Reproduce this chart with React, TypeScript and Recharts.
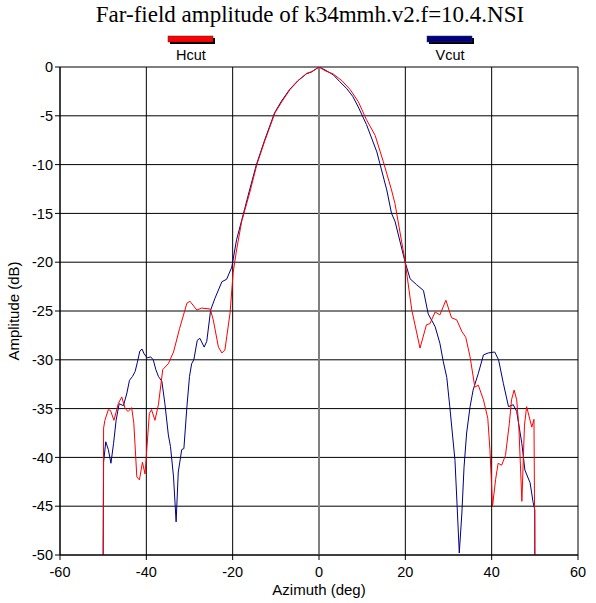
import { LineChart, Line, XAxis, YAxis, CartesianGrid, ReferenceLine } from 'recharts'

// Hcut (red) azimuth / amplitude samples
const hcutAz = [
  -50.0, -49.9, -49.6, -48.8, -48.3, -47.5, -46.5, -45.7, -44.9, -44.2, -43.4, -42.9, -42.2, -41.6,
  -40.9, -40.3, -39.3, -38.8, -38.0, -37.2, -36.2, -34.9, -33.7, -32.3, -30.6, -29.9, -28.3, -27.2,
  -25.2, -24.5, -23.3, -22.5, -21.8, -20.6, -19.9, -19.1, -17.9, -16.0, -14.4, -12.5, -10.2, -8.6,
  -6.7, -4.8, -2.85, -1.7, 0, 1.4, 3.3, 5.3, 7.2, 9.1, 11.0, 13.0, 14.9, 16.8, 17.6, 19.9, 21.5,
  23.4, 24.9, 25.7, 26.9, 28.0, 29.4, 30.7, 31.9, 33.1, 34.0, 35.0, 36.1, 36.9, 38.1, 39.1, 39.6,
  40.2, 40.9, 41.5, 42.3, 43.2, 44.1, 44.6, 45.2, 45.8, 46.3, 47.0, 47.6, 48.1, 49.3, 49.8, 50.0,
]
const hcutDb = [
  -50, -37.0, -36.2, -35.1, -35.2, -36.2, -34.5, -33.8, -35.0, -35.3, -34.9, -36.5, -42.0, -42.3,
  -40.5, -41.7, -35.5, -35.1, -36.2, -34.6, -31.0, -30.4, -29.2, -26.8, -24.2, -24.0, -24.9, -24.7,
  -24.8, -25.9, -28.7, -29.3, -29.0, -25.2, -21.1, -18.75, -15.8, -12.8, -10.0, -7.5, -4.7, -3.55,
  -2.3, -1.4, -0.65, -0.48, 0, -0.38, -0.72, -1.4, -2.3, -3.55, -5.4, -7.0, -9.7, -12.6, -14.0,
  -19.8, -24.9, -28.8, -26.4, -26.3, -25.1, -25.4, -23.9, -25.7, -25.9, -27.1, -27.7, -29.7, -32.8,
  -32.6, -34.1, -36.0, -39.2, -45.0, -42.3, -40.6, -40.8, -39.8, -36.5, -34.1, -33.1, -34.1, -36.9,
  -44.5, -36.7, -34.8, -36.9, -36.1, -50,
]

// Vcut (blue) azimuth / amplitude samples
const vcutAz = [
  -50.0, -49.9, -49.4, -48.8, -48.2, -47.6, -47.0, -46.3, -45.3, -44.5, -43.9, -43.2, -42.6, -42.1,
  -41.5, -41.0, -40.5, -39.8, -39.0, -38.4, -37.8, -37.2, -36.4, -35.7, -34.9, -34.4, -33.7, -33.1,
  -32.6, -31.8, -31.3, -30.6, -30.0, -29.5, -29.0, -28.2, -27.6, -26.6, -26.0, -25.1, -24.1, -22.5,
  -21.4, -20.2, -19.1, -17.9, -16.2, -14.5, -12.6, -10.3, -8.7, -6.8, -4.9, -2.9, -1.7, 0, 1.4, 3.3,
  4.8, 6.4, 7.8, 9.1, 11.0, 13.4, 14.1, 15.7, 16.8, 17.6, 19.9, 21.1, 22.6, 24.2, 25.3, 26.9, 28.0,
  28.8, 29.6, 30.3, 31.5, 32.0, 32.5, 33.1, 33.6, 34.2, 35.0, 35.7, 36.9, 38.1, 39.2, 40.7, 41.6,
  42.7, 43.9, 45.0, 45.8, 47.0, 47.7, 48.9, 49.6, 50.0, 50.0,
]
const vcutDb = [
  -50, -40.5, -38.4, -39.2, -40.6, -38.6, -36.2, -34.5, -34.7, -33.4, -32.1, -31.7, -31.2, -30.3,
  -29.1, -28.9, -29.4, -29.8, -29.7, -30.0, -31.0, -31.7, -32.2, -34.5, -37.7, -38.9, -42.0, -46.6,
  -41.5, -39.2, -39.1, -34.8, -31.7, -30.4, -30.0, -28.0, -27.8, -28.7, -28.1, -24.9, -23.7, -22.0,
  -21.75, -20.5, -17.7, -15.7, -12.8, -10.0, -7.5, -4.7, -3.5, -2.3, -1.4, -0.7, -0.5, 0, -0.3, -0.8,
  -1.5, -2.2, -3.0, -4.1, -5.9, -8.7, -9.9, -12.6, -15.0, -15.8, -19.9, -21.7, -22.3, -22.9, -25.3,
  -26.6, -28.3, -30.2, -31.8, -34.8, -40.3, -45.0, -49.8, -45.7, -41.0, -37.5, -34.8, -33.1, -31.4,
  -29.5, -29.3, -29.2, -30.0, -32.4, -34.8, -34.6, -35.3, -38.6, -41.3, -42.6, -44.6, -45.4, -50,
]

const xTicks = [-60, -40, -20, 0, 20, 40, 60]
const xMinorTicks = [-55, -50, -45, -35, -30, -25, -15, -10, -5, 5, 10, 15, 25, 30, 35, 45, 50, 55]
const yTicks = [0, -5, -10, -15, -20, -25, -30, -35, -40, -45, -50]
const yMinorTicks = Array.from({ length: 49 }, (_, i) => -(i + 1)).filter((v) => v % 5 !== 0)

const hcut = hcutAz.map((az, i) => ({ az, db: hcutDb[i] }))
const vcut = vcutAz.map((az, i) => ({ az, db: vcutDb[i] }))

const sans = 'Arial, "Liberation Sans", sans-serif'
const tickStyle = { fill: '#000', fontSize: 14.5, fontFamily: sans }

function LegendItem({ x, color, label }: { x: number; color: string; label: string }) {
  return (
    <g>
      <rect x={x + 2} y={38} width={45} height={6} fill="#000" />
      <rect x={x} y={36} width={45} height={6} fill={color} stroke="#333" strokeWidth={0.5} />
      <text x={x + 23} y={60} textAnchor="middle" fontSize={14.5} fontFamily={sans} fill="#000">
        {label}
      </text>
    </g>
  )
}

export default function App() {
  return (
    <div style={{ position: 'absolute', left: 0, top: 0, width: 596, height: 603, background: '#fff' }}>
      <LineChart width={596} height={603} margin={{ top: 67, right: 18, bottom: 18, left: 10 }}>
        <CartesianGrid stroke="#000" />
        <XAxis
          dataKey="az"
          type="number"
          domain={[-60, 60]}
          ticks={xTicks}
          allowDataOverflow
          height={30}
          tick={tickStyle}
          tickSize={5}
          tickMargin={7}
          tickLine={{ stroke: '#000' }}
          axisLine={{ stroke: '#000' }}
        />
        <XAxis
          xAxisId="minor"
          type="number"
          domain={[-60, 60]}
          ticks={xMinorTicks}
          mirror
          height={0}
          tickSize={7}
          tickFormatter={() => ''}
          axisLine={false}
          tickLine={{ stroke: '#c8c8c8' }}
        />
        <YAxis
          type="number"
          domain={[-50, 0]}
          ticks={yTicks}
          allowDataOverflow
          width={50}
          tick={tickStyle}
          tickSize={5}
          tickLine={{ stroke: '#000' }}
          axisLine={{ stroke: '#000' }}
        />
        <YAxis
          yAxisId="minor"
          type="number"
          domain={[-50, 0]}
          ticks={yMinorTicks}
          mirror
          width={0}
          tickSize={7}
          tickFormatter={() => ''}
          axisLine={false}
          tickLine={{ stroke: '#c8c8c8' }}
        />
        <ReferenceLine x={0} stroke="#808080" strokeWidth={2} />
        <Line
          data={vcut}
          dataKey="db"
          type="linear"
          stroke="#000080"
          strokeWidth={1}
          dot={false}
          isAnimationActive={false}
        />
        <Line
          data={hcut}
          dataKey="db"
          type="linear"
          stroke="#ff0000"
          strokeWidth={1}
          dot={false}
          isAnimationActive={false}
        />
      </LineChart>
      <svg
        width={596}
        height={603}
        style={{ position: 'absolute', left: 0, top: 0, pointerEvents: 'none' }}
      >
        <text
          x={310}
          y={22}
          textAnchor="middle"
          fontSize={23}
          fontFamily='"Times New Roman", "Liberation Serif", serif'
          fill="#000"
        >
          Far-field amplitude of k34mmh.v2.f=10.4.NSI
        </text>
        <LegendItem x={168} color="#ff0000" label="Hcut" />
        <LegendItem x={427} color="#000080" label="Vcut" />
        <text x={319} y={595} textAnchor="middle" fontSize={15} fontFamily={sans} fill="#000">
          Azimuth (deg)
        </text>
        <text
          x={19}
          y={311}
          textAnchor="middle"
          fontSize={15}
          fontFamily={sans}
          fill="#000"
          transform="rotate(-90 19 311)"
        >
          Amplitude (dB)
        </text>
      </svg>
    </div>
  )
}
